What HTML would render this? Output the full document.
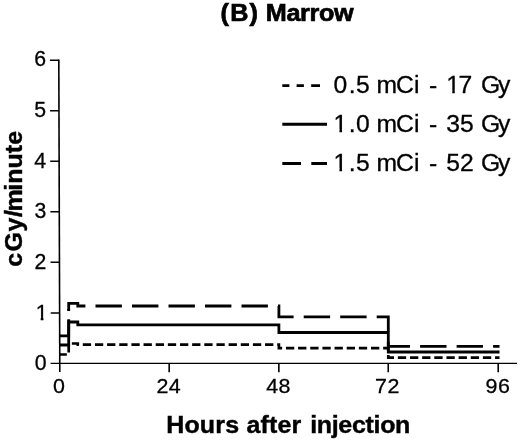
<!DOCTYPE html>
<html>
<head>
<meta charset="utf-8">
<title>(B) Marrow</title>
<style>
html,body{margin:0;padding:0;background:#fff;}
body{width:520px;height:443px;overflow:hidden;}
svg{display:block;}
text{font-family:"Liberation Sans",sans-serif;fill:#000;stroke:#000;stroke-width:0.3px;}
.b{font-weight:bold;}
.ti{font-size:24px;stroke-width:0.7px;}
.ax{font-size:23.8px;stroke-width:0.4px;}
.tk{font-size:21.6px;}
.tx{font-size:21px;}
.tk2{letter-spacing:0.4px;}
.lg{font-size:23.5px;word-spacing:0.73px;}
</style>
</head>
<body>
<svg width="520" height="443" viewBox="0 0 520 443">
<rect x="0" y="0" width="520" height="443" fill="#fff"/>

<text class="b ti" transform="translate(220.6 20.8) scale(1.05 1)" text-anchor="start" dx="0 1.15 1.15 1.15 -0.4 -0.35 -0.35 -0.35 -0.35 -0.35">(B) Marrow</text>

<g stroke="#000" fill="none">
  <path stroke-width="1.6" d="M58.8 59.58L59.8 372"/>
  <path stroke-width="1.2" d="M50.6 363.4H517"/>
  <path stroke-width="1.5" d="M50.71 312.88H59.61 M50.55 262.36H59.45 M50.39 211.84H59.29 M50.22 161.32H59.12 M50.06 110.8H58.96 M49.9 60.28H58.8"/>
  <path stroke-width="1.6" d="M169.18 363V372.3 M278.86 363V372.3 M388.24 363V372.3 M498.22 363V372.3"/>
</g>

<text class="tk" transform="translate(46.6 370.4) scale(0.985 1)" text-anchor="end">0</text>
<text class="tk" transform="translate(47.7 319.73) scale(0.985 1)" text-anchor="end">1</text>
<text class="tk" transform="translate(46.4 269.06) scale(0.985 1)" text-anchor="end">2</text>
<text class="tk" transform="translate(46.3 218.39) scale(0.985 1)" text-anchor="end">3</text>
<text class="tk" transform="translate(46.2 167.72) scale(0.985 1)" text-anchor="end">4</text>
<text class="tk" transform="translate(46.1 117.05) scale(0.985 1)" text-anchor="end">5</text>
<text class="tk" transform="translate(46.0 66.38) scale(0.985 1)" text-anchor="end">6</text>
<text class="tx" transform="translate(59.0 393.3) scale(1.02 1)" text-anchor="middle">0</text>
<text class="tx tk2" transform="translate(168.88 393.3) scale(1.02 1)" text-anchor="middle">24</text>
<text class="tx tk2" transform="translate(278.56 393.3) scale(1.02 1)" text-anchor="middle">48</text>
<text class="tx tk2" transform="translate(387.44 393.3) scale(1.02 1)" text-anchor="middle">72</text>
<text class="tx tk2" transform="translate(497.92 393.3) scale(1.02 1)" text-anchor="middle">96</text>
<text class="b ax" transform="translate(166.2 432.5) scale(1.051 1)" text-anchor="start" dx="0 0.15 0.15 0.15 0.15 0.15 0.15 0.15 0.15 0.15 0.15 0.15 1.75 -0.32 -0.32 -0.32 -0.32 -0.32 -0.32 -0.32 -0.32">Hours after injection</text>
<text class="b ax" transform="translate(22.3 266.65) rotate(-90) scale(1.05 1)" dx="0 1.1 0.71 0.38 -1.33 -1.24 0 0 0 0">cGy/minute</text>

<g fill="none" stroke="#000" stroke-width="2.8" stroke-linejoin="miter">
  <path stroke-dasharray="26.4 10.1" stroke-dashoffset="2" d="M59.5 335.8H68.7V303.4H77.8V306.0H278.9V316.8H388.3V346.4H499.5"/>
  <path d="M59.5 345.0H68.7V322.0H77.8V324.8H278.9V332.5H388.3V352.0H499.5"/>
  <path d="M68.7 321V319.2M68.7 311V308.9"/>
  <path stroke-width="2.7" stroke-dasharray="8.3 3.85" stroke-dashoffset="0.95" d="M59.5 354.5H68.7V343.5H77.8V344.7H278.9V348.1H388.3V357.7H499.5"/>
</g>


<g fill="none" stroke="#000">
  <path stroke-width="2.9" d="M282.3 85.6H289.4M296.6 85.6H303.9M311.2 85.6H320"/>
  <path stroke-width="3" d="M282.3 124.2H327"/>
  <path stroke-width="3" d="M282.3 163.4H301M311.3 163.4H327"/>
</g>

<text class="lg" transform="translate(333.6 93.2) scale(1.05 1)" text-anchor="start" dx="0 1.4 0.4 0 -0.9 -0.9 0 0 1.9 0 1.4 -1.6 0 1.1 -1.9">0.5 mCi - 17 Gy</text>
<text class="lg" transform="translate(333.6 132.2) scale(1.05 1)" text-anchor="start" dx="0 1.4 0.4 0 -0.9 -0.9 0 0 1.9 0 1.4 0 0 -0.5 -1.9">1.0 mCi - 35 Gy</text>
<text class="lg" transform="translate(333.6 171.2) scale(1.05 1)" text-anchor="start" dx="0 1.4 0.4 0 -0.9 -0.9 0 0 1.9 0 1.4 0 0 -0.5 -1.9">1.5 mCi - 52 Gy</text>
<g fill="#fff" stroke="none"><rect x="36.2" y="317.5" width="4.45" height="3.6"/><rect x="43.45" y="317.5" width="4.5" height="3.6"/><rect x="334" y="129.5" width="5.45" height="3.6"/><rect x="342.05" y="129.5" width="5.2" height="3.6"/><rect x="334" y="168.5" width="5.45" height="3.6"/><rect x="342.05" y="168.5" width="5.2" height="3.6"/><rect x="447" y="90.6" width="5.25" height="3.6"/><rect x="454.8" y="90.6" width="5" height="3.6"/></g>

</svg>
</body>
</html>
